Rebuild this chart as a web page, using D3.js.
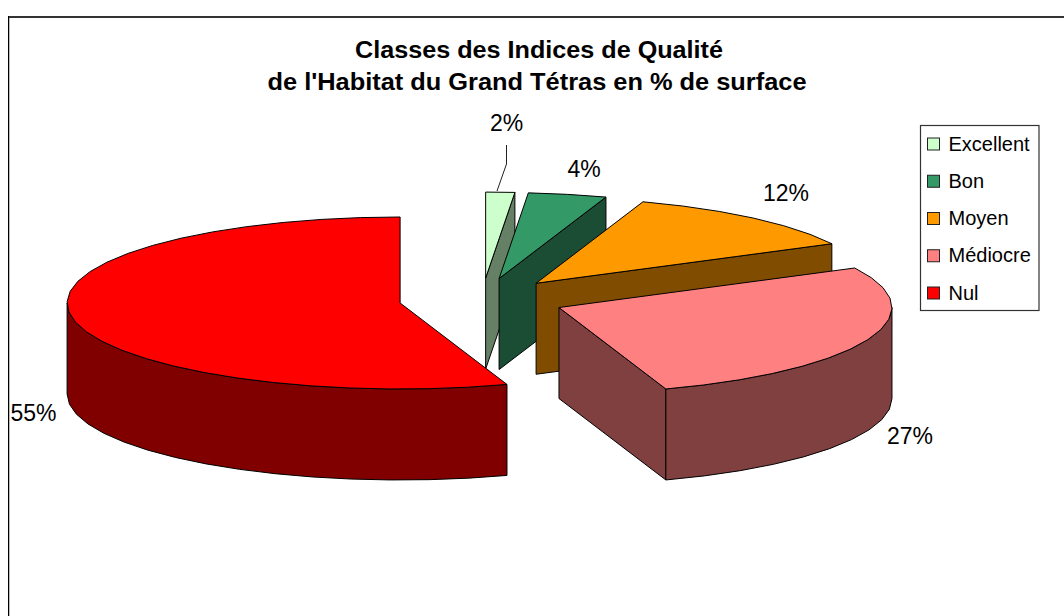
<!DOCTYPE html>
<html><head><meta charset="utf-8">
<style>html,body{margin:0;background:#fff}svg{display:block}text{font-family:"Liberation Sans",Arial,sans-serif;fill:#000}</style>
<script src="https://cdn.jsdelivr.net/npm/d3@7"></script>
</head><body><svg id="c" width="1064" height="616"></svg>
<script>
const categories = ["Excellent","Bon","Moyen","Médiocre","Nul"];
const shares = [1.4,3.8,12.2,27.4,55.2];
const shownLabels = ["2%","4%","12%","27%","55%"];
const topColors = ["#CCFFCC","#339966","#FF9900","#FF8080","#FF0000"];
const sideColors = ["#668066","#1A4D33","#804D00","#804040","#800000"];
const titleLines = ["Classes des Indices de Qualité","de l'Habitat du Grand Tétras en % de surface"];

// layout
const cx=482, cy=299.5, rx=333, ry=86, depth=91, explode=83, facet=Math.PI/26;
const labelAt=[[506.5,131],[584,177],[786,201],[910,444],[33.5,421]];
const titleLen=[368,539];
const leader=[[506.5,145],[506.5,164],[497,191]];

const svg=d3.select("#c");
svg.append("path").attr("d","M8,17H1064").attr("stroke","#333").attr("stroke-width",2);
svg.append("path").attr("d","M8.5,16V616").attr("stroke","#000").attr("stroke-width",1);
svg.append("path").attr("d","M9.5,18V616").attr("stroke","#bbb").attr("stroke-width",1);

svg.selectAll("text.title").data(titleLines).join("text").attr("class","title")
  .attr("x",(d,i)=>i?267.5:355).attr("y",(d,i)=>58+i*32)
  .attr("textLength",(d,i)=>titleLen[i]).attr("lengthAdjust","spacingAndGlyphs")
  .attr("font-size",23).attr("font-weight","bold").text(d=>d);

const arcs=d3.pie().sort(null).value(d=>d)(shares);
const line=d3.line();
const px=(a,r)=>r*Math.sin(a), py=(a,r)=>-r*Math.cos(a)*(ry/rx);
function rim(a0,a1,ox,oy,dz){
  const n=Math.max(1,Math.round((a1-a0)/facet));
  return d3.range(n+1).map(i=>{const a=a0+(a1-a0)*i/n;return [ox+px(a,rx),oy+py(a,rx)+dz];});
}
const gp=svg.append("g").attr("stroke","#000").attr("stroke-width",1).attr("stroke-linejoin","round");
arcs.forEach((s,i)=>{
  const mid=(s.startAngle+s.endAngle)/2;
  const ox=cx+px(mid,explode), oy=cy+py(mid,explode);
  const face=(a)=>{const p=rim(a,a,ox,oy,0)[0];
    gp.append("path").attr("fill",sideColors[i]).attr("d",line([[ox,oy],p,[p[0],p[1]+depth],[ox,oy+depth]])+"Z");};
  // a side face shows when it turns towards the viewer
  if(Math.cos(s.startAngle-Math.PI/2-Math.PI)>0) face(s.startAngle);
  if(Math.cos(s.endAngle+Math.PI/2-Math.PI)>0) face(s.endAngle);
  const w0=Math.max(s.startAngle,Math.PI/2), w1=Math.min(s.endAngle,3*Math.PI/2);
  if(w1>w0){
    const top=rim(w0,w1,ox,oy,0), bot=rim(w0,w1,ox,oy,depth).reverse();
    gp.append("path").attr("fill",sideColors[i]).attr("d",line(top.concat(bot))+"Z");
  }
  gp.append("path").attr("fill",topColors[i]).attr("d",line([[ox,oy]].concat(rim(s.startAngle,s.endAngle,ox,oy,0)))+"Z");
});

svg.append("path").attr("d",line(leader)).attr("fill","none").attr("stroke","#222").attr("stroke-width",1);
svg.selectAll("text.lab").data(shownLabels).join("text").attr("class","lab")
  .attr("x",(d,i)=>labelAt[i][0]).attr("y",(d,i)=>labelAt[i][1]).attr("text-anchor","middle")
  .attr("font-size",23).text(d=>d);

// legend
const ly=d3.scalePoint().domain(categories).range([144,293]);
svg.append("rect").attr("x",920.5).attr("y",125.5).attr("width",118.5).attr("height",185)
  .attr("fill","#fff").attr("stroke","#333").attr("stroke-width",1.2);
const lg=svg.selectAll("g.leg").data(categories).join("g").attr("class","leg");
lg.append("rect").attr("x",927.5).attr("y",d=>ly(d)-6).attr("width",12).attr("height",12)
  .attr("fill",(d,i)=>topColors[i]).attr("stroke","#222").attr("stroke-width",1);
lg.append("text").attr("x",948.5).attr("y",d=>ly(d)+6.5).attr("font-size",20).text(d=>d);
</script></body></html>
